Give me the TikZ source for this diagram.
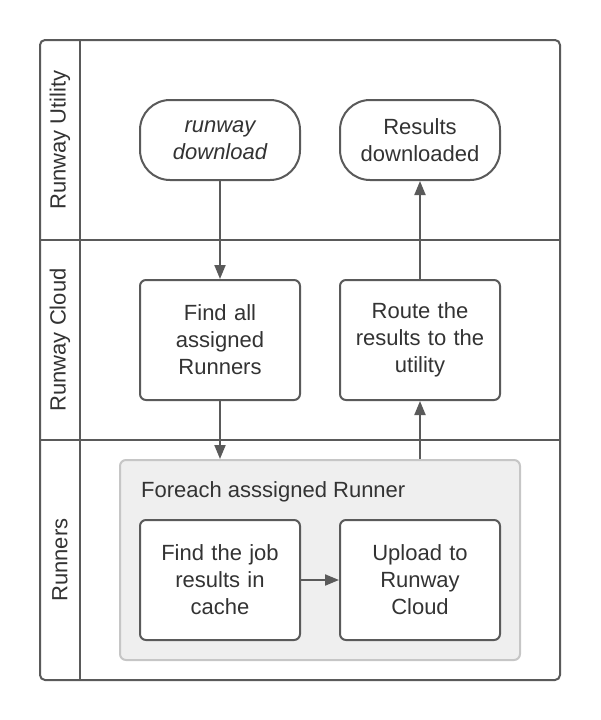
\documentclass[tikz,border=0pt]{standalone}
\usepackage{fontspec}
\setmainfont{Liberation Sans}
\usetikzlibrary{arrows.meta}
\definecolor{ln}{HTML}{5A5A5A}
\definecolor{grpfill}{HTML}{EFEFEF}
\definecolor{grpline}{HTML}{C6C6C6}
\definecolor{txt}{HTML}{333333}
\begin{document}
\begin{tikzpicture}[x=1pt,y=-1pt,
  boxst/.style={draw=ln, line width=2pt, rounded corners=6pt, fill=white, minimum width=160pt, minimum height=120pt, align=center, text width=150pt, font=\fontsize{22}{27}\selectfont, text=txt},
  termst/.style={draw=ln, line width=2pt, rounded corners=30pt, fill=white, minimum width=160pt, minimum height=80pt, align=center, text width=150pt, font=\fontsize{22}{27}\selectfont, text=txt},
  lanelab/.style={rotate=90, font=\fontsize{22}{27}\selectfont, text=txt},
  conn/.style={draw=ln, line width=2pt, -{Triangle[length=14pt,width=11pt]}}
]
\useasboundingbox (0,0) rectangle (600,720);
% frame
\draw[ln, line width=2pt, rounded corners=5pt] (40,40) rectangle (560,680);
\draw[ln, line width=2pt] (80,40) -- (80,680);
\draw[ln, line width=2pt] (40,240) -- (560,240);
\draw[ln, line width=2pt] (40,440) -- (560,440);
\node[lanelab] (l1) at (60,140) {Runway Utility};
\node[lanelab] (l2) at (60,340) {Runway Cloud};
\node[lanelab] (l3) at (60,560) {Runners};
% group
\node[draw=grpline, fill=grpfill, line width=2pt, rounded corners=6pt, minimum width=400pt, minimum height=200pt, inner sep=0pt] (grp) at (320,560) {};
\node[anchor=west, font=\fontsize{22}{27}\selectfont, text=txt, inner sep=0pt] (gt) at (141,492) {Foreach asssigned Runner};
% nodes
\node[termst] (dl) at (220,140) {\itshape runway\\\itshape download};
\node[termst] (res) at (420,140) {Results\\downloaded};
\node[boxst] (find) at (220,340) {Find all\\assigned\\Runners};
\node[boxst] (route) at (420,340) {Route the\\results to the\\utility};
\node[boxst] (job) at (220,580) {Find the job\\results in\\cache};
\node[boxst] (up) at (420,580) {Upload to\\Runway\\Cloud};
% connectors
\draw[conn] (dl.south) -- (find.north);
\draw[conn] (find.south) -- (find.south |- grp.north);
\draw[conn] (route.south |- grp.north) -- (route.south);
\draw[conn] (route.north) -- (res.south);
\draw[conn] (job.east) -- (up.west);
\end{tikzpicture}
\end{document}
